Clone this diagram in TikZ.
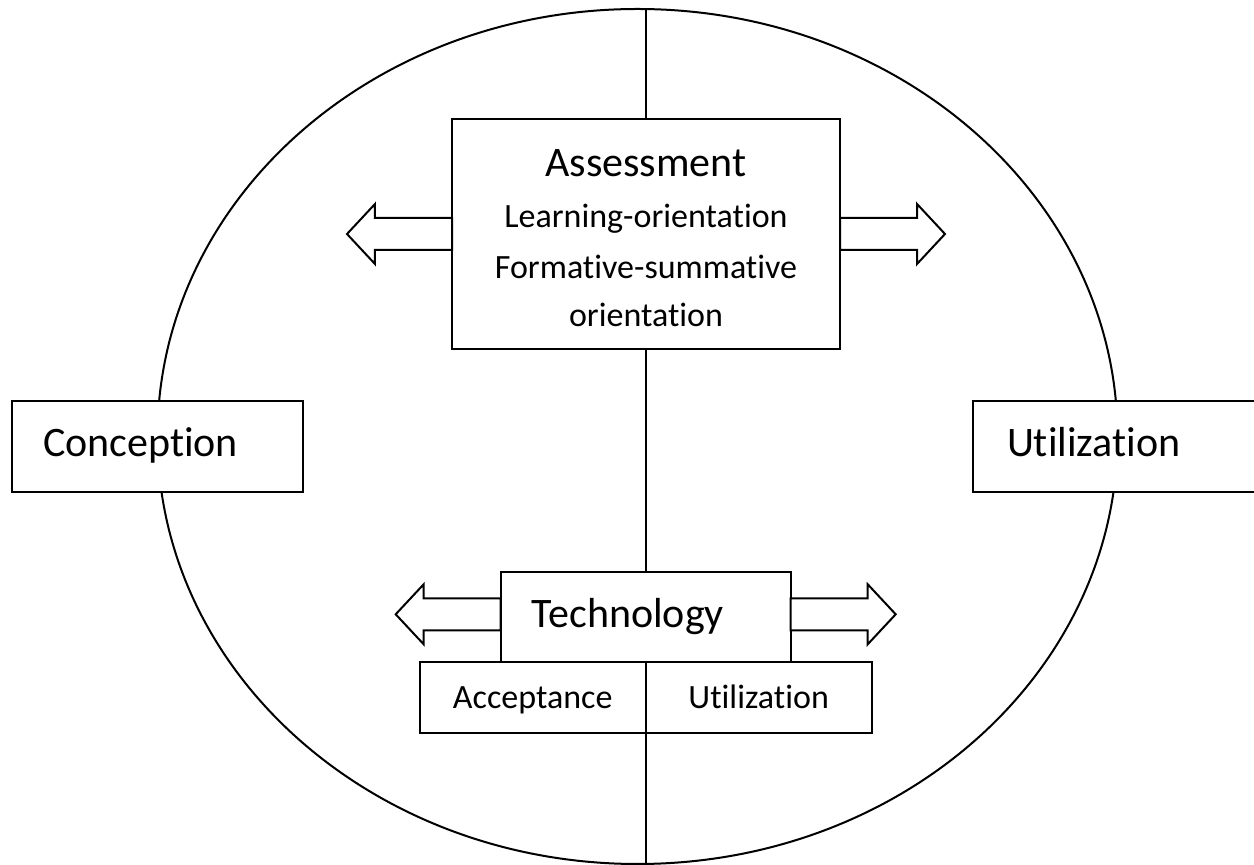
\documentclass[tikz,border=0pt]{standalone}
\usepackage{fontspec}
\setmainfont[Ligatures={NoCommon,NoContextual}]{Carlito}
\usetikzlibrary{positioning,shapes.arrows}

\begin{document}
\begin{tikzpicture}[x=0.5pt,y=-0.5pt,line width=1pt,
   box/.style={draw,fill=white,inner sep=0pt,outer sep=0pt},
   sidebox/.style={box,minimum height=45.5pt,text width=114.5pt,inner xsep=15.5pt,align=left,
      text height=15pt,text depth=4.5pt,font=\fontsize{21}{25}\selectfont},
   halfbox/.style={box,minimum width=113pt,minimum height=35.5pt,text height=14.6pt,text depth=3pt,
      font=\fontsize{17}{20}\selectfont},
   fatarrow/.style={single arrow,draw,fill=white,inner xsep=0pt,inner ysep=7.5pt,outer sep=0pt,
      single arrow head extend=7pt,single arrow tip angle=94,minimum height=52.5pt,anchor=tail}]
   \clip (0,0) rectangle (1254,865);

   \draw (637.5,436.5) ellipse [x radius=240pt,y radius=213.75pt];
   \coordinate (top) at (645.7,9);
   \coordinate (bottom) at (645.7,865);
   \draw (top) -- (bottom);

   \node[box,minimum width=194pt,minimum height=115pt,align=center,font=\fontsize{17}{24}\selectfont] (assess) at (646,234)
      {{\fontsize{21}{25}\selectfont\rule{0pt}{17.5pt}Assessment}\\[1.5pt]Learning-orientation\\[1.5pt]Formative-summative\\orientation};
   \node[box,minimum height=45pt,text width=114pt,inner xsep=15.5pt,align=left,text height=15pt,text depth=4.5pt,
      font=\fontsize{21}{25}\selectfont] (tech) at (645.7,616.7) {Technology};
   \node[halfbox] (accept) [below left=0pt of tech.south] {Acceptance};
   \node[halfbox] (usage) [right=0pt of accept] {Utilization};

   \node[sidebox] (concept) at (157.5,446.5) {Conception};
   \node[sidebox,inner xsep=17pt,text width=111.5pt] (utilize) at (1118.5,446.5) {Utilization};

   \node[fatarrow,shape border rotate=180] (assessL) at (assess.west) {};
   \node[fatarrow] (assessR) at (assess.east) {};
   \node[fatarrow,shape border rotate=180] (techL) at ([yshift=1.2pt]tech.west) {};
   \node[fatarrow] (techR) at ([yshift=1.2pt]tech.east) {};
\end{tikzpicture}
\end{document}
